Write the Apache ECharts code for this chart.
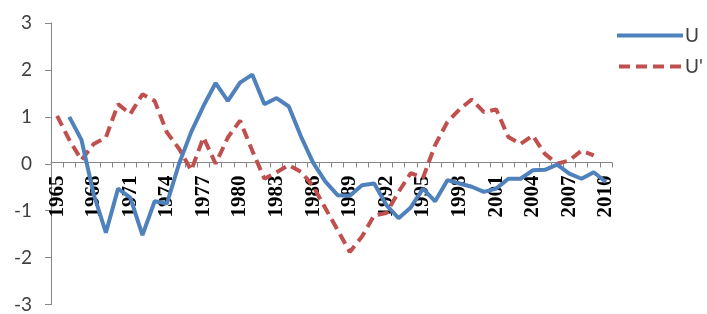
<!DOCTYPE html>
<html style="height: 100%">
<head>
<meta charset="utf-8">
<title>U / U'</title>
<style>
  html, body { margin: 0; padding: 0; background: #fff; }
  #container { width: 707px; height: 314px; }
</style>
</head>
<body>
<div id="container"></div>
<script src="https://cdn.jsdelivr.net/npm/echarts@6/dist/echarts.min.js"></script>
<script>
// years on the x axis
var years = [];
for (var y = 1965; y <= 2010; y++) years.push(String(y));

// U (solid blue), starts in 1966
var seriesU = [null, 1.0, 0.51, -0.65, -1.47, -0.53, -0.72, -1.52, -0.8, -0.85,
  0.0, 0.68, 1.23, 1.72, 1.34, 1.73, 1.9, 1.27, 1.4, 1.22,
  0.58, 0.02, -0.38, -0.67, -0.68, -0.46, -0.42, -0.88, -1.16, -0.93,
  -0.53, -0.8, -0.35, -0.42, -0.49, -0.6, -0.53, -0.32, -0.32, -0.14,
  -0.13, -0.02, -0.21, -0.32, -0.18, -0.39];

// U' (dashed red), ends in 2009
var seriesU2 = [1.02, 0.51, 0.08, 0.42, 0.56, 1.27, 1.06, 1.48, 1.34, 0.67,
  0.32, -0.14, 0.56, 0.0, 0.56, 0.92, 0.28, -0.32, -0.18, -0.03,
  -0.17, -0.48, -0.95, -1.41, -1.88, -1.55, -1.1, -1.05, -0.6, -0.2,
  -0.3, 0.4, 0.89, 1.16, 1.37, 1.1, 1.16, 0.57, 0.42, 0.6,
  0.21, 0.0, 0.07, 0.28, 0.18, null];

var yMin = -3, yMax = 3;

var gridTop = 23, gridBottom = 7;
var plotH = 314 - gridTop - gridBottom;
// move the category axis up to the zero line
var zeroOffset = -plotH * (0 - yMin) / (yMax - yMin);

var solidIcon = 'path://M0,0h66v4h-66z';
var dashIcon = 'path://M0,0h11v4h-11z M17,0h11v4h-11z M34,0h11v4h-11z M51,0h11v4h-11z';

var chart = echarts.init(document.getElementById('container'));
var option = {
  animation: false,
  grid: { left: 51, right: 95, top: gridTop, bottom: gridBottom, containLabel: false },
  legend: {
    orient: 'vertical',
    left: 617,
    top: 26,
    padding: 0,
    itemWidth: 66,
    itemHeight: 4,
    itemGap: 12,
    textStyle: { fontFamily: 'Lato', fontSize: 19, color: '#404040', padding: [0, 0, 0, -3] },
    data: [
      { name: 'U', icon: solidIcon },
      { name: "U'", icon: dashIcon }
    ]
  },
  xAxis: {
    type: 'category',
    data: years,
    boundaryGap: true,
    position: 'bottom',
    offset: zeroOffset,
    axisLine: { onZero: false, lineStyle: { color: '#868686', width: 1 } },
    axisTick: { show: true, interval: 0, length: 5, inside: false, lineStyle: { color: '#868686' } },
    axisLabel: {
      interval: 2,
      rotate: 90,
      margin: 13,
      fontFamily: 'Liberation Serif',
      fontWeight: 'bold',
      fontSize: 21,
      color: '#000'
    },
    splitLine: { show: false }
  },
  yAxis: {
    type: 'value',
    min: yMin,
    max: yMax,
    interval: 1,
    axisLine: { show: true, lineStyle: { color: '#868686', width: 1 } },
    axisTick: { show: true, length: 6, lineStyle: { color: '#868686' } },
    axisLabel: { fontFamily: 'Lato', fontSize: 19, color: '#404040', margin: 19 },
    splitLine: { show: false }
  },
  series: [
    {
      name: 'U',
      type: 'line',
      data: seriesU,
      symbol: 'none',
      lineStyle: { color: '#4F81BD', width: 4 },
      itemStyle: { color: '#4F81BD' },
      z: 3
    },
    {
      name: "U'",
      type: 'line',
      data: seriesU2,
      symbol: 'none',
      lineStyle: { color: '#C0504D', width: 4, type: [11, 6] },
      itemStyle: { color: '#C0504D' },
      z: 2
    }
  ]
};
chart.setOption(option);
</script>
</body>
</html>
